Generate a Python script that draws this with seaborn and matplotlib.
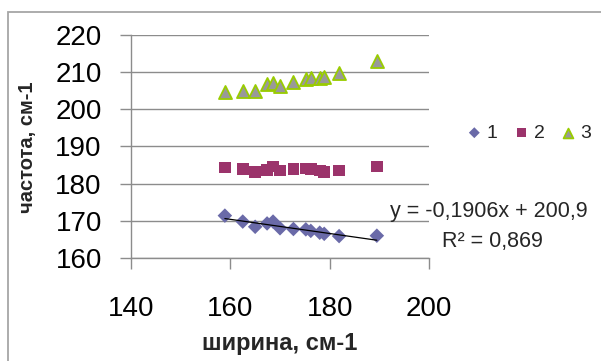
import numpy as np
import pandas as pd
import matplotlib
matplotlib.use("Agg")
import matplotlib.pyplot as plt
from matplotlib.patches import Rectangle
import seaborn as sns

# Band width (cm-1) shared by the three series
width = [158.9, 162.5, 165.0, 167.4, 168.6, 170.0, 172.7, 175.2, 176.2, 178.0, 178.9, 181.9, 189.5]
# Frequencies (cm-1) for each series
freq_1 = [171.4, 169.8, 168.4, 169.3, 169.8, 168.0, 167.8, 167.7, 167.3, 166.8, 166.5, 165.9, 166.0]
freq_2 = [184.4, 183.9, 183.1, 183.7, 184.6, 183.5, 183.9, 184.1, 183.9, 183.5, 183.2, 183.5, 184.6]
freq_3 = [204.7, 205.0, 205.0, 206.7, 207.2, 206.3, 207.4, 208.1, 208.3, 208.5, 208.6, 209.9, 212.9]
series_names = ["1", "2", "3"]

# Linear trend of series 1
slope = -0.1906
intercept = 200.9
r2 = 0.869

x_ticks = [140, 160, 180, 200]
y_ticks = [160, 170, 180, 190, 200, 210, 220]

df = pd.DataFrame({
    "width": width * 3,
    "freq": freq_1 + freq_2 + freq_3,
    "series": [n for n in series_names for _ in width],
})

sns.set_style("white")
plt.rcParams["font.family"] = ["Liberation Sans", "DejaVu Sans"]

W, H = 601, 361
fig = plt.figure(figsize=(W / 100, H / 100), dpi=100)
ax = fig.add_axes([131 / W, 1 - 258 / H, 298 / W, 223 / H])

styles = {
    "1": dict(marker="D", s=55, color="#6a6aa8", edgecolor="none", linewidth=0),
    "2": dict(marker="s", s=70, color="#9b336b", edgecolor="none", linewidth=0),
    "3": dict(marker="^", s=88, color="#999999", edgecolor="#99cc00", linewidth=1.3),
}
for name in series_names:
    sub = df[df["series"] == name]
    sns.scatterplot(data=sub, x="width", y="freq", ax=ax, label=name, zorder=3, **styles[name])

# Trend line over the range of series 1
xs = np.array([min(width), max(width)])
sns.lineplot(x=xs, y=slope * xs + intercept, ax=ax, color="black", linewidth=0.9, zorder=4)

ax.set_xlim(140, 200)
ax.set_ylim(160, 220)
ax.set_xticks(x_ticks)
ax.set_yticks(y_ticks)
ax.set_xticklabels([str(t) for t in x_ticks])
ax.set_yticklabels([str(t) for t in y_ticks])
ax.set_xlabel("")
ax.set_ylabel("")

grid_color = "#8c8c8c"
ax.yaxis.grid(True, color=grid_color, linewidth=1.0)
ax.xaxis.grid(False)
for side in ["top", "right"]:
    ax.spines[side].set_visible(False)
for side in ["left", "bottom"]:
    ax.spines[side].set_color(grid_color)
    ax.spines[side].set_linewidth(1.0)

ax.tick_params(axis="both", direction="out", length=8, width=1.0, color=grid_color,
               labelsize=20, labelcolor="black", left=True, bottom=True)
ax.tick_params(axis="x", pad=19)
ax.tick_params(axis="y", pad=13)

leg = ax.legend(loc="center", bbox_to_anchor=(530 / W, 1 - 133 / H),
                bbox_transform=fig.transFigure, ncol=3, frameon=False,
                fontsize=14, handlelength=0.6, handletextpad=0.35,
                columnspacing=0.9, markerscale=0.75)

fig.text(28 / W, 1 - 147 / H, "частота, см-1", rotation=90, fontsize=14.5,
         fontweight="bold", ha="center", va="center")
fig.text(280 / W, 1 - 350 / H, "ширина, см-1", fontsize=17,
         fontweight="bold", ha="center", va="baseline")

fig.text(390 / W, 1 - 217 / H, "y = -0,1906x + 200,9", fontsize=15.5,
         ha="left", va="baseline")
fig.text(442 / W, 1 - 247 / H, f"R² = {r2:.3f}".replace(".", ","), fontsize=15.5,
         ha="left", va="baseline")

# Chart-area frame
fig.add_artist(Rectangle((8 / W, -0.2), 1.5, 0.2 + (1 - 12 / H),
                         transform=fig.transFigure, fill=False,
                         edgecolor="#a6a6a6", linewidth=1.3))

fig.savefig("out.png", dpi=100)
